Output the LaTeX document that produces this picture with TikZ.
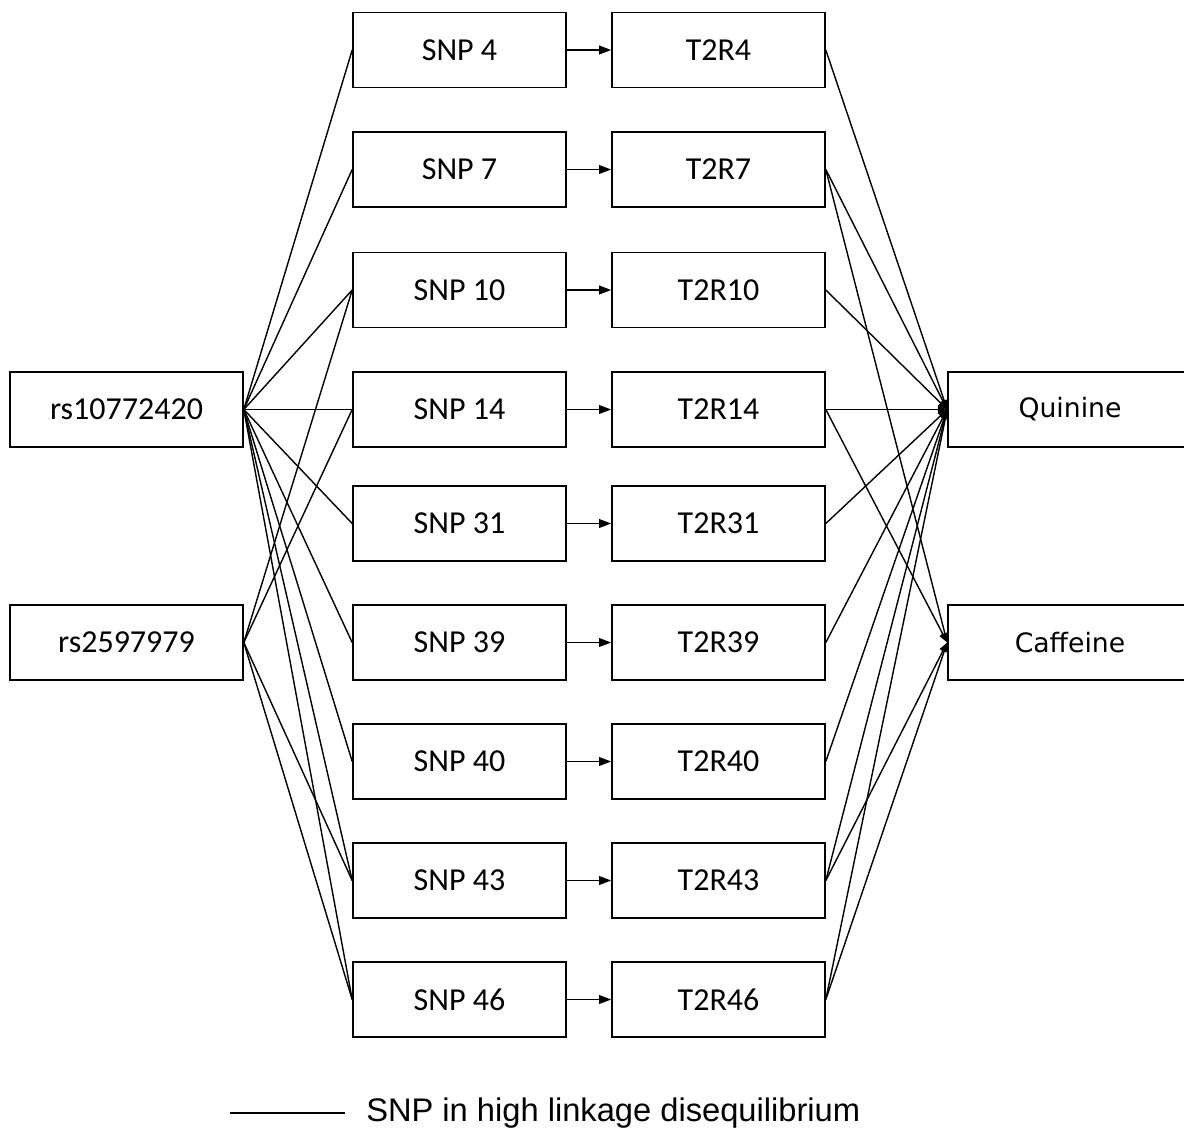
\documentclass[tikz,border=0pt]{standalone}
\usepackage{fontspec}
\setmainfont{Carlito}
\newfontfamily\tastefont{DejaVu Sans}
\newfontfamily\legendfont{Liberation Sans}
\usetikzlibrary{arrows.meta}

\begin{document}
\begin{tikzpicture}[x=0.75pt,y=0.75pt,yscale=-1,xscale=1,
    box/.style={draw, line width=1.2pt, minimum width=159.75pt, minimum height=56.25pt, inner sep=0pt, font=\fontsize{24}{28}\selectfont},
    ld/.style={line width=1.05pt},
    expr/.style={line width=1.05pt, -{Triangle[length=9pt,width=6.5pt]}},
    hit/.style={line width=1.05pt, -{Triangle[length=7pt,width=5.5pt]}}]
  %set diagram size
  \useasboundingbox (0,0) rectangle (1184,1131);

  % Lead SNPs
  \node[box, minimum width=174.75pt] (rsA) at (126.5,409.5) {rs10772420};
  \node[box, minimum width=174.75pt] (rsB) at (126.5,642.5) {rs2597979};

  % SNPs in linkage
  \node[box] (snp4) at (459.5,50) {SNP 4};
  \node[box] (snp7) at (459.5,169.5) {SNP 7};
  \node[box] (snp10) at (459.5,290) {SNP 10};
  \node[box] (snp14) at (459.5,409.5) {SNP 14};
  \node[box] (snp31) at (459.5,523.5) {SNP 31};
  \node[box] (snp39) at (459.5,642.5) {SNP 39};
  \node[box] (snp40) at (459.5,761.5) {SNP 40};
  \node[box] (snp43) at (459.5,880.5) {SNP 43};
  \node[box] (snp46) at (459.5,999.5) {SNP 46};

  % Receptors
  \node[box] (tr4) at (718.5,50) {T2R4};
  \node[box] (tr7) at (718.5,169.5) {T2R7};
  \node[box] (tr10) at (718.5,290) {T2R10};
  \node[box] (tr14) at (718.5,409.5) {T2R14};
  \node[box] (tr31) at (718.5,523.5) {T2R31};
  \node[box] (tr39) at (718.5,642.5) {T2R39};
  \node[box] (tr40) at (718.5,761.5) {T2R40};
  \node[box] (tr43) at (718.5,880.5) {T2R43};
  \node[box] (tr46) at (718.5,999.5) {T2R46};

  % Bitter compounds
  \node[box, minimum width=183pt, font=\tastefont\fontsize{20}{24}\selectfont] (quin) at (1070,409.5) {Quinine};
  \node[box, minimum width=183pt, font=\tastefont\fontsize{20}{24}\selectfont] (caff) at (1070,642.5) {Caffeine};

  % Linkage lines
  \draw[ld] (rsA.east) -- (snp4.west);
  \draw[ld] (rsA.east) -- (snp7.west);
  \draw[ld] (rsA.east) -- (snp10.west);
  \draw[ld] (rsA.east) -- (snp14.west);
  \draw[ld] (rsA.east) -- (snp31.west);
  \draw[ld] (rsA.east) -- (snp39.west);
  \draw[ld] (rsA.east) -- (snp40.west);
  \draw[ld] (rsA.east) -- (snp43.west);
  \draw[ld] (rsA.east) -- (snp46.west);
  \draw[ld] (rsB.east) -- (snp10.west);
  \draw[ld] (rsB.east) -- (snp14.west);
  \draw[ld] (rsB.east) -- (snp43.west);
  \draw[ld] (rsB.east) -- (snp46.west);

  % SNP to receptor
  \draw[expr] (snp4) -- (tr4);
  \draw[expr] (snp7) -- (tr7);
  \draw[expr] (snp10) -- (tr10);
  \draw[expr] (snp14) -- (tr14);
  \draw[expr] (snp31) -- (tr31);
  \draw[expr] (snp39) -- (tr39);
  \draw[expr] (snp40) -- (tr40);
  \draw[expr] (snp43) -- (tr43);
  \draw[expr] (snp46) -- (tr46);

  % Receptor to compound
  \draw[hit] (tr4.east) -- (quin.west);
  \draw[hit] (tr7.east) -- (quin.west);
  \draw[hit] (tr10.east) -- (quin.west);
  \draw[hit] (tr14.east) -- (quin.west);
  \draw[hit] (tr31.east) -- (quin.west);
  \draw[hit] (tr39.east) -- (quin.west);
  \draw[hit] (tr40.east) -- (quin.west);
  \draw[hit] (tr43.east) -- (quin.west);
  \draw[hit] (tr46.east) -- (quin.west);
  \draw[hit] (tr7.east) -- (caff.west);
  \draw[hit] (tr14.east) -- (caff.west);
  \draw[hit] (tr43.east) -- (caff.west);
  \draw[hit] (tr46.east) -- (caff.west);

  % Legend
  \coordinate (legA) at (230,1113);
  \coordinate (legB) at (345,1113);
  \draw[ld] (legA) -- (legB);
  \node[anchor=west, inner sep=0pt, font=\legendfont\fontsize{24.5}{28}\selectfont] (legtext) at (366,1113) {SNP in high linkage disequilibrium};

\end{tikzpicture}
\end{document}
